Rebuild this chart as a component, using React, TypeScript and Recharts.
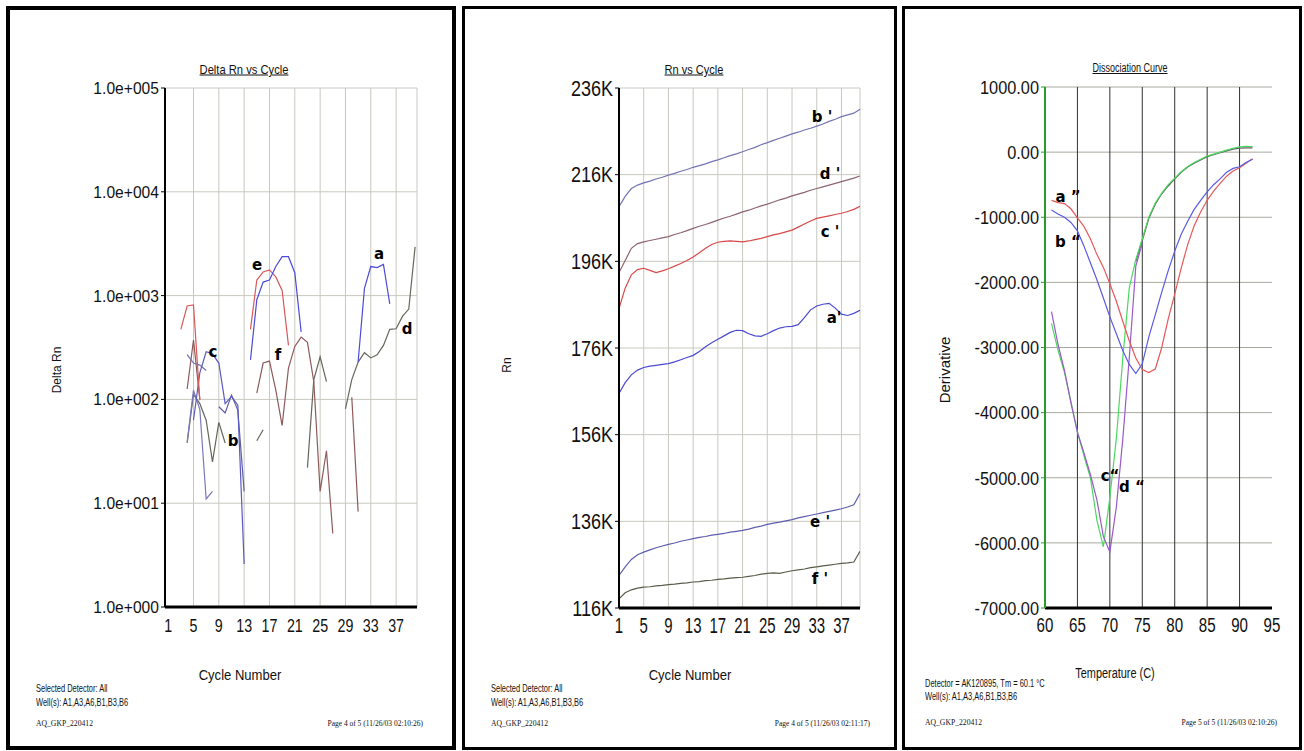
import React from 'react';
import { LineChart, Line, XAxis, YAxis, CartesianGrid, ReferenceLine } from 'recharts';

const _ = null;

// ---- Delta Rn vs Cycle (log scale, fragments) ----
const cycles = [
  1, 2, 3, 4, 5, 6, 7, 8, 9, 10, 11, 12, 13, 14, 15, 16, 17, 18, 19, 20,
  21, 22, 23, 24, 25, 26, 27, 28, 29, 30, 31, 32, 33, 34, 35, 36, 37, 38, 39, 40,
];
const cycleTicks = [1, 5, 9, 13, 17, 21, 25, 29, 33, 37];
const logTicks = [1, 10, 100, 1000, 10000, 100000];

const dBlueLeft = [_, _, _, _, 63, 180, 288, 275, 224, 91, 107, 88, 2.6, _, _, _, _, _, _, _, _, _, _, _, _, _, _, _, _, _, _, _, _, _, _, _, _, _, _, _];
const dBlueRight = [_, _, _, _, _, _, _, _, _, _, _, _, _, 240, 912, 1350, 1413, 1905, 2370, 2370, 1660, 447, _, _, _, _, _, _, _, _, 229, 1175, 1905, 1860, 1995, 832, _, _, _, _];
const dRed = [_, _, 473, 794, 813, 98, _, _, _, _, _, _, _, 473, 1413, 1690, 1770, 1514, 1122, 331, _, _, _, _, _, _, _, _, _, _, _, _, _, _, _, _, _, _, _, _];
const dPurple = [_, _, _, 270, 224, 214, 190, _, _, _, _, _, _, _, _, _, _, _, _, _, _, _, _, _, _, _, _, _, _, _, _, _, _, _, _, _, _, _, _, _];
const dSlate = [_, _, _, 39, 123, 80, 11, 13, _, _, _, _, _, _, _, _, _, _, _, _, _, _, _, _, _, _, _, _, _, _, _, _, _, _, _, _, _, _, _, _];
const dSlate2 = [_, _, _, _, _, _, _, _, 85, 74, 110, 79, 13, _, _, _, _, _, _, _, _, _, _, _, _, _, _, _, _, _, _, _, _, _, _, _, _, _, _, _];
const dGray = [_, _, _, 38, 112, 91, 63, 25, 60, 38, _, _, _, _, 40, 51, _, _, _, _, _, _, 22, 155, 257, 148, _, _, 81, 155, 229, 282, 251, 269, 331, 473, 479, 631, 741, 2950];
const dBrown = [_, _, _, 126, 372, 100, _, _, _, _, _, _, _, _, 115, 224, 234, 123, 56, 200, 324, 398, 355, 148, 13, 32, 5.1, _, _, 105, 8.3, _, _, _, _, _, _, _, _, _];

// ---- Rn vs Cycle (thousands) ----
const rnTicks = [116, 136, 156, 176, 196, 216, 236];
const rnB = [208.6, 211.0, 212.8, 213.6, 214.1, 214.5, 215.0, 215.4, 215.9, 216.3, 216.8, 217.2, 217.7, 218.1, 218.5, 219.0, 219.4, 219.9, 220.4, 220.8, 221.3, 221.8, 222.3, 222.9, 223.4, 223.9, 224.4, 224.9, 225.4, 225.8, 226.3, 226.7, 227.2, 227.7, 228.3, 228.8, 229.4, 229.8, 230.2, 231.1];
const rnD = [193.4, 196.2, 199.0, 200.1, 200.5, 200.8, 201.1, 201.4, 201.7, 202.2, 202.6, 203.1, 203.6, 204.1, 204.5, 205.0, 205.5, 206.0, 206.4, 206.9, 207.4, 207.8, 208.3, 208.8, 209.2, 209.7, 210.2, 210.6, 211.1, 211.5, 211.9, 212.4, 212.8, 213.2, 213.6, 214.0, 214.4, 214.8, 215.2, 215.7];
const rnC = [185.1, 189.8, 192.9, 194.1, 194.4, 193.9, 193.4, 193.8, 194.3, 194.9, 195.5, 196.2, 197.0, 198.0, 199.0, 199.9, 200.4, 200.6, 200.7, 200.6, 200.5, 200.7, 201.0, 201.3, 201.7, 202.1, 202.4, 202.8, 203.2, 203.9, 204.6, 205.3, 205.9, 206.2, 206.5, 206.8, 207.1, 207.5, 208.0, 208.7];
const rnA = [165.5, 168.0, 169.8, 170.9, 171.5, 171.8, 172.0, 172.2, 172.4, 172.8, 173.3, 173.8, 174.3, 175.2, 176.3, 177.2, 178.0, 178.8, 179.6, 180.1, 180.0, 179.3, 178.8, 178.7, 179.3, 180.0, 180.6, 180.9, 181.0, 181.4, 183.0, 184.8, 185.7, 186.1, 186.3, 185.2, 183.8, 183.5, 184.0, 184.7];
const rnE = [123.5, 125.5, 127.2, 128.3, 128.9, 129.4, 129.9, 130.3, 130.7, 131.0, 131.4, 131.7, 132.0, 132.3, 132.5, 132.8, 133.0, 133.2, 133.5, 133.7, 133.9, 134.2, 134.6, 134.9, 135.3, 135.6, 135.8, 136.1, 136.4, 136.8, 137.1, 137.4, 137.7, 138.0, 138.3, 138.6, 138.9, 139.3, 139.8, 142.4];
const rnF = [118.1, 119.5, 120.2, 120.6, 120.8, 120.9, 121.1, 121.2, 121.4, 121.5, 121.7, 121.8, 122.0, 122.1, 122.3, 122.4, 122.6, 122.7, 122.9, 123.0, 123.1, 123.3, 123.5, 123.8, 124.0, 124.1, 124.0, 124.3, 124.6, 124.8, 125.0, 125.3, 125.5, 125.7, 125.9, 126.1, 126.3, 126.4, 126.6, 129.1];

// ---- Dissociation curve ----
const temps = [61, 62, 63, 64, 65, 66, 67, 68, 69, 70, 71, 72, 73, 74, 75, 76, 77, 78, 79, 80, 81, 82, 83, 84, 85, 86, 87, 88, 89, 90, 91, 92];
const tempTicks = [60, 65, 70, 75, 80, 85, 90, 95];
const derivTicks = [-7000, -6000, -5000, -4000, -3000, -2000, -1000, 0, 1000];
const dcA = [-740, -775, -790, -870, -1010, -1140, -1330, -1570, -1770, -2020, -2290, -2600, -2900, -3160, -3340, -3385, -3330, -3000, -2560, -2180, -1780, -1420, -1130, -920, -740, -600, -480, -370, -290, -240, -170, -100];
const dcB = [-890, -950, -1000, -1080, -1210, -1440, -1700, -1960, -2240, -2530, -2790, -3050, -3260, -3400, -3250, -2840, -2500, -2150, -1820, -1520, -1260, -1060, -880, -740, -610, -500, -410, -310, -250, -225, -160, -110];
const dcC = [-2630, -3040, -3380, -3830, -4300, -4660, -5000, -5650, -6060, -5300, -4400, -3150, -2080, -1650, -1330, -1000, -780, -630, -500, -400, -300, -220, -160, -110, -60, -30, 0, 30, 60, 80, 90, 85];
const dcD = [-2450, -2950, -3350, -3850, -4300, -4620, -4950, -5340, -5900, -6140, -5450, -4400, -3150, -1750, -1400, _, _, _, _, _, _, _, _, _, _, _, _, _, _, _, _, _];
const dcGray = [_, _, _, _, _, _, _, _, _, _, _, _, _, -1680, -1360, -1020, -800, -640, -520, -410, -310, -230, -170, -120, -70, -40, -10, 20, 45, 60, 65, 65];

const deltaRows = cycles.map((c, i) => ({
  cycle: c,
  blueL: dBlueLeft[i], blueR: dBlueRight[i], red: dRed[i], purple: dPurple[i],
  slate: dSlate[i], slate2: dSlate2[i], gray: dGray[i], brown: dBrown[i],
}));
const rnRows = cycles.map((c, i) => ({ cycle: c, a: rnA[i], b: rnB[i], c: rnC[i], d: rnD[i], e: rnE[i], f: rnF[i] }));
const dcRows = temps.map((t, i) => ({ t, a: dcA[i], b: dcB[i], c: dcC[i], d: dcD[i], g: dcGray[i] }));

const SANS = "'Liberation Sans', Arial, sans-serif";
const SERIF = "'Liberation Serif', 'Times New Roman', serif";
const GRID = '#c8c8c0';

const expLabel = (v: number) => '1.0e+' + String(Math.round(Math.log10(v))).padStart(3, '0');

// condensed tick label (the original print uses a narrow face)
function NarrowTick({ x, y, payload, textAnchor, verticalAnchor, size, sx, fmt }: any) {
  const label = fmt ? fmt(payload.value) : String(payload.value);
  const dy = verticalAnchor === 'start' ? '0.71em' : '0.355em';
  return (
    <g transform={`translate(${x},${y})`}>
      <text transform={`scale(${sx},1)`} textAnchor={textAnchor} dy={dy} fontSize={size} fontFamily={SANS} fill="#111">
        {label}
      </text>
    </g>
  );
}

function Txt({ x, y, children, size = 10, sx = 1, align = 'left', font = SANS, style = {} }: any) {
  const tx = align === 'center' ? '-50%' : align === 'right' ? '-100%' : '0';
  const origin = align === 'center' ? 'center' : align === 'right' ? 'right' : 'left';
  return (
    <div style={{ position: 'absolute', left: x, top: y, transform: `translate(${tx}, -50%)`, whiteSpace: 'nowrap' }}>
      <div style={{ transform: `scaleX(${sx})`, transformOrigin: origin, fontSize: size, fontFamily: font, color: '#111', lineHeight: 1, ...style }}>
        {children}
      </div>
    </div>
  );
}

function VTxt({ x, y, children, size = 12 }: any) {
  return (
    <div style={{ position: 'absolute', left: x, top: y, transform: 'translate(-50%, -50%) rotate(-90deg)', fontSize: size, fontFamily: SANS, color: '#111', whiteSpace: 'nowrap', lineHeight: 1 }}>
      {children}
    </div>
  );
}

function Tag({ x, y, children }: any) {
  return (
    <div style={{ position: 'absolute', left: x, top: y, transform: 'translate(-50%, -50%)', fontSize: 15, fontWeight: 900, fontFamily: "'DejaVu Sans', sans-serif", color: '#000', whiteSpace: 'pre', lineHeight: 1 }}>
      {children}
    </div>
  );
}

function Box({ left, top, width, height, bw }: any) {
  return <div style={{ position: 'absolute', left, top, width, height, border: `${bw}px solid #000`, boxSizing: 'border-box' }} />;
}

function DeltaRnChart() {
  return (
    <LineChart width={440} height={650} data={deltaRows} margin={{ top: 88, right: 23, bottom: 13, left: 0 }}>
      <CartesianGrid vertical={false} stroke={GRID} />
      {[5, 9, 13, 17, 21, 25, 29, 33, 37, 40.3].map((c) => (
        <ReferenceLine key={c} x={c} stroke={GRID} />
      ))}
      <XAxis type="number" dataKey="cycle" domain={[0.5, 40.3]} ticks={cycleTicks} interval={0} allowDataOverflow height={30}
        tickLine={false} tickMargin={6} axisLine={{ stroke: '#000', strokeWidth: 3 }}
        tick={(p: any) => <NarrowTick {...p} size={18.5} sx={0.77} />} />
      <YAxis scale="log" domain={[1, 100000]} ticks={logTicks} interval={0} allowDataOverflow width={165}
        tickSize={4} tickLine={{ stroke: '#000' }} axisLine={{ stroke: '#000', strokeWidth: 2 }}
        tick={(p: any) => <NarrowTick {...p} size={17} sx={0.92} fmt={expLabel} />} />
      <Line dataKey="gray" stroke="#66665a" strokeWidth={1.2} dot={false} isAnimationActive={false} />
      <Line dataKey="brown" stroke="#8e5a5a" strokeWidth={1.2} dot={false} isAnimationActive={false} />
      <Line dataKey="slate" stroke="#7a7abc" strokeWidth={1.2} dot={false} isAnimationActive={false} />
      <Line dataKey="slate2" stroke="#5c5ca8" strokeWidth={1.2} dot={false} isAnimationActive={false} />
      <Line dataKey="purple" stroke="#6e6eb4" strokeWidth={1.2} dot={false} isAnimationActive={false} />
      <Line dataKey="blueL" stroke="#5a5ac0" strokeWidth={1.2} dot={false} isAnimationActive={false} />
      <Line dataKey="red" stroke="#d85858" strokeWidth={1.2} dot={false} isAnimationActive={false} />
      <Line dataKey="blueR" stroke="#4b4bd8" strokeWidth={1.2} dot={false} isAnimationActive={false} />
    </LineChart>
  );
}

function RnChart() {
  return (
    <LineChart width={421} height={650} data={rnRows} margin={{ top: 88, right: 21, bottom: 12, left: 0 }}>
      <CartesianGrid vertical={false} stroke={GRID} />
      {[5, 9, 13, 17, 21, 25, 29, 33, 37, 40].map((c) => (
        <ReferenceLine key={c} x={c} stroke={GRID} />
      ))}
      <XAxis type="number" dataKey="cycle" domain={[1, 40]} ticks={cycleTicks} interval={0} allowDataOverflow height={30}
        tickLine={false} tickMargin={3} axisLine={{ stroke: '#000', strokeWidth: 3 }}
        tick={(p: any) => <NarrowTick {...p} size={22} sx={0.68} />} />
      <YAxis domain={[116, 236]} ticks={rnTicks} interval={0} allowDataOverflow width={159}
        tickSize={4} tickLine={{ stroke: '#000' }} axisLine={{ stroke: '#000', strokeWidth: 2 }}
        tick={(p: any) => <NarrowTick {...p} size={22} sx={0.82} fmt={(v: number) => v + 'K'} />} />
      <Line dataKey="f" stroke="#5c5c4c" strokeWidth={1.2} dot={false} isAnimationActive={false} />
      <Line dataKey="e" stroke="#5e5eae" strokeWidth={1.2} dot={false} isAnimationActive={false} />
      <Line dataKey="a" stroke="#4a4ad0" strokeWidth={1.2} dot={false} isAnimationActive={false} />
      <Line dataKey="c" stroke="#d84848" strokeWidth={1.2} dot={false} isAnimationActive={false} />
      <Line dataKey="d" stroke="#8c6474" strokeWidth={1.2} dot={false} isAnimationActive={false} />
      <Line dataKey="b" stroke="#7474b4" strokeWidth={1.2} dot={false} isAnimationActive={false} />
    </LineChart>
  );
}

function DissociationChart() {
  return (
    <LineChart width={400} height={650} data={dcRows} margin={{ top: 87, right: 28, bottom: 12, left: 0 }}>
      <CartesianGrid vertical={false} stroke="#a8a8a0" />
      {[65, 70, 75, 80, 85, 90].map((t) => (
        <ReferenceLine key={t} x={t} stroke="#333" />
      ))}
      <XAxis type="number" dataKey="t" domain={[60, 95]} ticks={tempTicks} interval={0} allowDataOverflow height={30}
        tickLine={false} tickMargin={3} axisLine={{ stroke: '#000', strokeWidth: 3 }}
        tick={(p: any) => <NarrowTick {...p} size={21} sx={0.72} />} />
      <YAxis domain={[-7000, 1000]} ticks={derivTicks} interval={0} allowDataOverflow width={145}
        tickSize={4} tickLine={{ stroke: '#2a9a2a' }} axisLine={{ stroke: '#2a9a2a', strokeWidth: 2 }}
        tick={(p: any) => <NarrowTick {...p} size={19} sx={0.86} fmt={(v: number) => v.toFixed(2)} />} />
      <Line dataKey="g" stroke="#606060" strokeWidth={1.2} dot={false} isAnimationActive={false} />
      <Line dataKey="c" stroke="#4cd860" strokeWidth={1.2} dot={false} isAnimationActive={false} />
      <Line dataKey="d" stroke="#9a5ac8" strokeWidth={1.2} dot={false} isAnimationActive={false} />
      <Line dataKey="a" stroke="#e85858" strokeWidth={1.2} dot={false} isAnimationActive={false} />
      <Line dataKey="b" stroke="#5a5ae6" strokeWidth={1.2} dot={false} isAnimationActive={false} />
    </LineChart>
  );
}

export default function App() {
  return (
    <div style={{ position: 'fixed', left: 0, top: 0, width: 1304, height: 751, background: '#fff', overflow: 'hidden' }}>
      <Box left={6} top={6} width={450} height={744} bw={4} />
      <Box left={462} top={6} width={435} height={744} bw={3} />
      <Box left={902} top={6} width={400} height={744} bw={3} />

      <div style={{ position: 'absolute', left: 0, top: 0 }}><DeltaRnChart /></div>
      <div style={{ position: 'absolute', left: 460, top: 0 }}><RnChart /></div>
      <div style={{ position: 'absolute', left: 900, top: 0 }}><DissociationChart /></div>

      {/* panel 1 text */}
      <Txt x={244} y={69} size={13} sx={0.86} align="center" style={{ textDecoration: 'underline' }}>Delta Rn vs Cycle</Txt>
      <VTxt x={57} y={370} size={12}>Delta Rn</VTxt>
      <Txt x={240} y={675} size={14.5} sx={0.9} align="center">Cycle Number</Txt>
      <Txt x={36} y={688} size={11} sx={0.68}>Selected Detector: All</Txt>
      <Txt x={36} y={702} size={11} sx={0.68}>Well(s): A1,A3,A6,B1,B3,B6</Txt>
      <Txt x={36} y={723} size={8.5} sx={0.9} font={SERIF}>AQ_GKP_220412</Txt>
      <Txt x={423} y={723} size={8.5} sx={0.88} align="right" font={SERIF}>Page 4 of 5 (11/26/03 02:10:26)</Txt>
      <Tag x={379} y={254}>a</Tag>
      <Tag x={257} y={265}>e</Tag>
      <Tag x={213} y={352}>c</Tag>
      <Tag x={278} y={355}>f</Tag>
      <Tag x={407} y={329}>d</Tag>
      <Tag x={233} y={441}>b</Tag>

      {/* panel 2 text */}
      <Txt x={694} y={69} size={13} sx={0.85} align="center" style={{ textDecoration: 'underline' }}>Rn vs Cycle</Txt>
      <VTxt x={507} y={365} size={12}>Rn</VTxt>
      <Txt x={690} y={675} size={14.5} sx={0.9} align="center">Cycle Number</Txt>
      <Txt x={491} y={688} size={11} sx={0.68}>Selected Detector: All</Txt>
      <Txt x={491} y={702} size={11} sx={0.68}>Well(s): A1,A3,A6,B1,B3,B6</Txt>
      <Txt x={491} y={723} size={8.5} sx={0.9} font={SERIF}>AQ_GKP_220412</Txt>
      <Txt x={870} y={723} size={8.5} sx={0.88} align="right" font={SERIF}>Page 4 of 5 (11/26/03 02:11:17)</Txt>
      <Tag x={822} y={117}>{"b '"}</Tag>
      <Tag x={830} y={174}>{"d '"}</Tag>
      <Tag x={830} y={232}>{"c '"}</Tag>
      <Tag x={834} y={318}>{"a'"}</Tag>
      <Tag x={820} y={522}>{"e '"}</Tag>
      <Tag x={820} y={579}>{"f '"}</Tag>

      {/* panel 3 text */}
      <Txt x={1130} y={68} size={12} sx={0.75} align="center" style={{ textDecoration: 'underline' }}>Dissociation Curve</Txt>
      <VTxt x={944} y={370} size={15}>Derivative</VTxt>
      <Txt x={1115} y={673} size={14} sx={0.78} align="center">Temperature (C)</Txt>
      <Txt x={925} y={683} size={11} sx={0.68}>Detector = AK120895, Tm = 60.1 °C</Txt>
      <Txt x={925} y={696} size={11} sx={0.68}>Well(s): A1,A3,A6,B1,B3,B6</Txt>
      <Txt x={925} y={722} size={8.5} sx={0.9} font={SERIF}>AQ_GKP_220412</Txt>
      <Txt x={1277} y={722} size={8.5} sx={0.88} align="right" font={SERIF}>Page 5 of 5 (11/26/03 02:10:26)</Txt>
      <Tag x={1068} y={197}>{'a \u201D'}</Tag>
      <Tag x={1068} y={242}>{'b \u201C'}</Tag>
      <Tag x={1110} y={476}>{'c\u201C'}</Tag>
      <Tag x={1132} y={487}>{'d \u201C'}</Tag>
    </div>
  );
}
